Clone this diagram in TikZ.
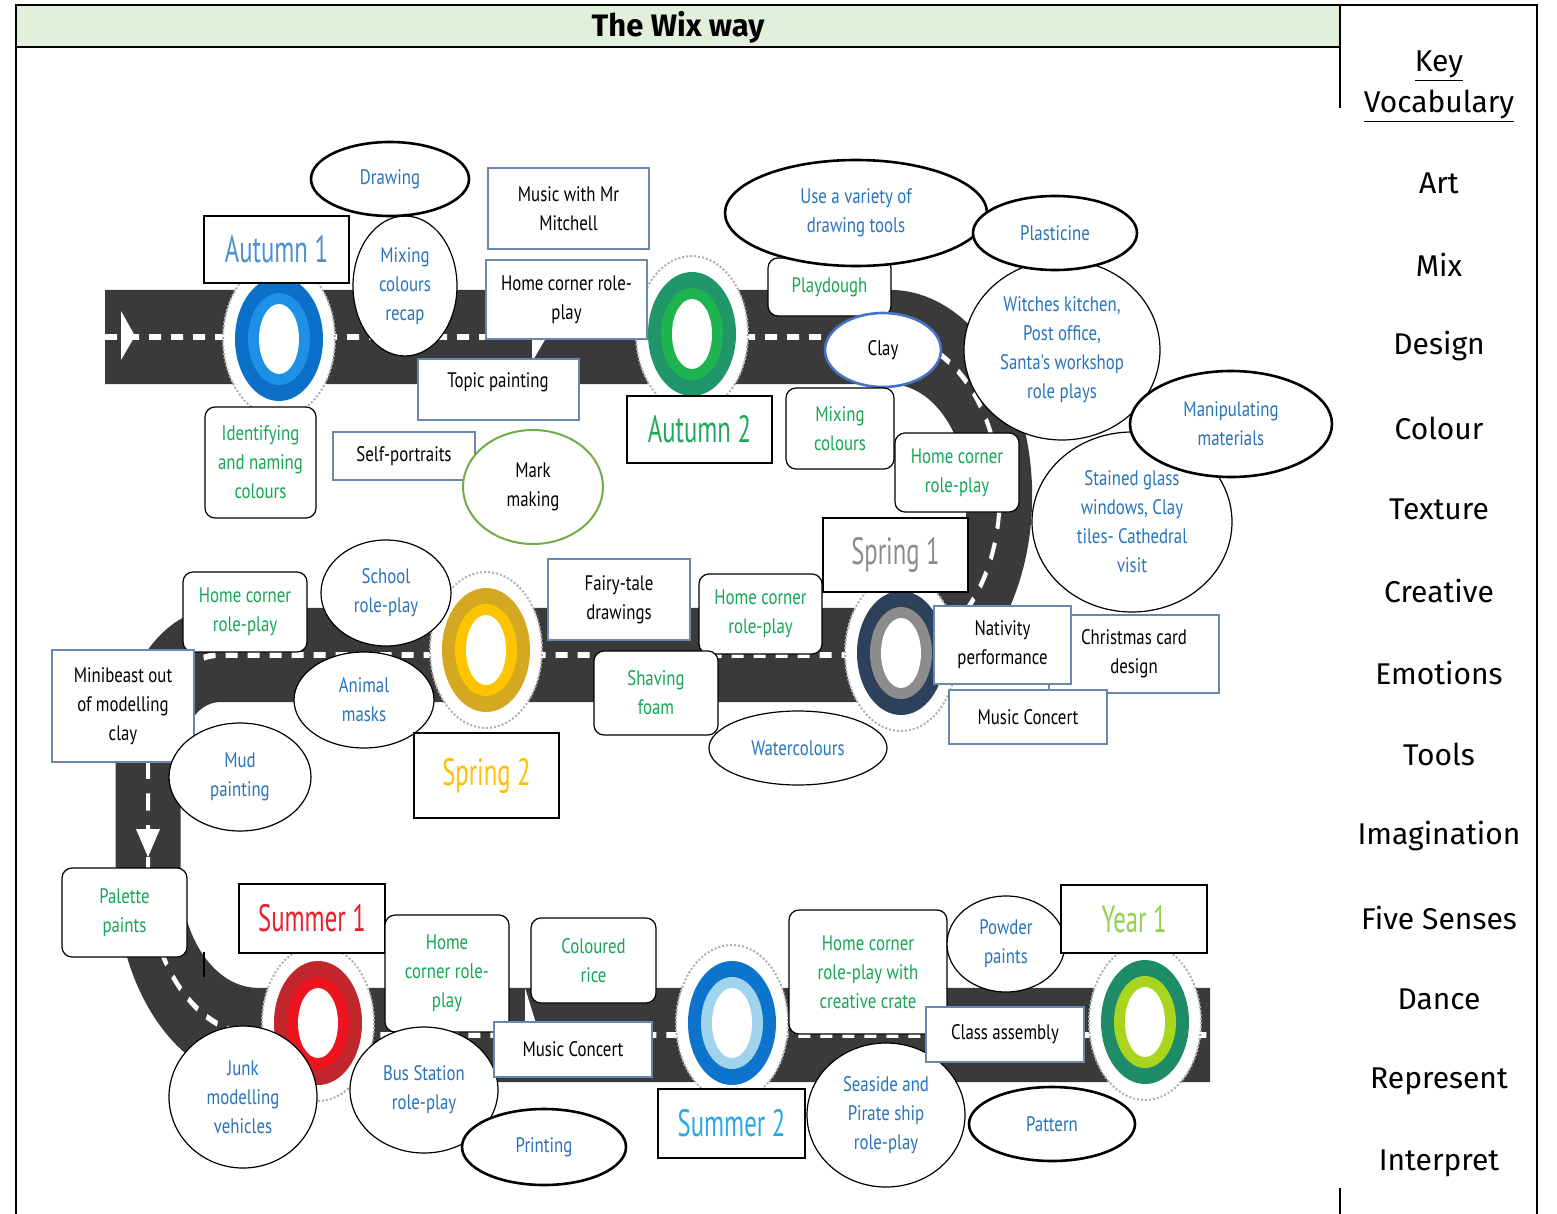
\documentclass[tikz,border=0pt]{standalone}
\usepackage{fontspec}
\usetikzlibrary{shapes.geometric}
\setmainfont{PT Sans}
\newfontfamily\wxcond[FakeStretch=0.8]{PT Sans}
\newfontfamily\wxvcond[FakeStretch=0.65]{PT Sans}
\newfontfamily\wxkey{Fira Sans}
\newcommand\wxbody{\wxcond\fontsize{10.5}{14.5}\selectfont}
\newcommand\wxseason{\wxvcond\fontsize{19}{22}\selectfont}
\newcommand\pxu{0.5pt}
\definecolor{roadc}{RGB}{58,58,58}
\definecolor{tblue}{RGB}{40,116,186}
\definecolor{tgreen}{RGB}{22,166,86}
\definecolor{bgrey}{RGB}{105,135,175}
\definecolor{titlebg}{RGB}{226,239,218}
\definecolor{halo}{RGB}{175,175,175}
\definecolor{markg}{RGB}{112,173,71}
\definecolor{clayb}{RGB}{68,114,196}
\definecolor{a1o}{RGB}{10,112,200}\definecolor{a1i}{RGB}{30,144,230}
\definecolor{a2o}{RGB}{32,150,105}\definecolor{a2i}{RGB}{30,180,80}
\definecolor{s1o}{RGB}{45,65,92}\definecolor{s1i}{RGB}{140,140,140}
\definecolor{s2o}{RGB}{212,168,32}\definecolor{s2i}{RGB}{255,196,0}
\definecolor{u1o}{RGB}{192,38,44}\definecolor{u1i}{RGB}{236,20,30}
\definecolor{u2o}{RGB}{12,116,204}\definecolor{u2i}{RGB}{160,212,236}
\definecolor{y1o}{RGB}{30,140,104}\definecolor{y1i}{RGB}{168,214,30}
\definecolor{a1t}{RGB}{79,143,208}
\definecolor{a2t}{RGB}{30,168,92}
\definecolor{s1t}{RGB}{140,140,140}
\definecolor{s2t}{RGB}{255,192,0}
\definecolor{u1t}{RGB}{232,32,42}
\definecolor{u2t}{RGB}{40,170,225}
\definecolor{y1t}{RGB}{146,208,80}
\newcommand\boxnode[7]{\node[#6, minimum width={(#4-#2)*\pxu}, minimum height={(#5-#3)*\pxu}] (#1) at ({(#2+#4)/2},{(#3+#5)/2}) {#7};}
\newcommand\ellnode[7]{\node[ellipse, #6, minimum width={2*#4*\pxu}, minimum height={2*#5*\pxu}] (#1) at (#2,#3) {#7};}
\newcommand\ringdraw[4]{%
  \draw[halo, densely dotted, line width=1pt, fill=white] (#1,#2) ellipse [x radius=56, y radius=78];
  \fill[#3] (#1,#2) ellipse [x radius=44, y radius=62];
  \fill[#4] (#1,#2) ellipse [x radius=31, y radius=46];
  \fill[white] (#1,#2) ellipse [x radius=20, y radius=35];
}
\begin{document}
\begin{tikzpicture}[x=0.5pt,y=-0.5pt,
  sq/.style={rectangle, draw=bgrey, line width=0.7pt, fill=white, inner sep=0pt, align=center, font=\wxbody, text=black},
  rnd/.style={rectangle, rounded corners=5pt, draw=black, line width=0.6pt, fill=white, inner sep=0pt, align=center, font=\wxbody, text=tgreen},
  season/.style={rectangle, draw=black, line width=1.1pt, fill=white, inner sep=0pt, font=\wxseason},
  ovl/.style={draw=black, line width=0.6pt, fill=white, inner sep=0pt, align=center, font=\wxbody, text=tblue},
  ovlb/.style={ovl, line width=1.3pt},
  keyw/.style={font=\wxkey\fontsize{15}{18}\selectfont, text=black, inner sep=0pt},
]
\useasboundingbox (0,0) rectangle (1557,1214);
% frame
\fill[titlebg] (16,5) rectangle (1340,47);
\draw[line width=1.2pt] (16,1214) -- (16,5) -- (1537,5) -- (1537,1214);
\draw[line width=1.2pt] (16,47) -- (1340,47);
\draw[line width=1.2pt] (1340,5) -- (1340,108);
\draw[line width=1.2pt] (1340,1188) -- (1340,1214);
\node[font=\wxkey\bfseries\fontsize{15.5}{18}\selectfont] (title) at (678,27) {The Wix way};
% key vocabulary
\node[keyw, align=center, font=\wxkey\fontsize{15}{20.5}\selectfont] (keyhead) at (1439,87) {\underline{Key}\\\underline{Vocabulary}};
\foreach \w [count=\i] in {Art,Mix,Design,Colour,Texture,Creative,Emotions,Tools,Imagination,Five Senses,Dance,Represent,Interpret}
  \node[keyw] (kw\i) at (1439,{183+(\i-1)*81.67}) {\w};
% road
\begin{scope}[transform canvas={yscale=1.45}]
  \draw[roadc, line width=32.5pt] (105,232.41) -- (890,232.41) arc[start angle=-90, end angle=90, radius=109.66] -- (220,451.72) arc[start angle=-90, end angle=-180, radius=72] -- (148,603.8) arc[start angle=180, end angle=90, radius=110] -- (1210,713.79);
  \draw[white, line width=2pt, dash pattern=on 6pt off 5pt] (105,232.41) -- (890,232.41) arc[start angle=-90, end angle=90, radius=109.66] -- (220,451.72) arc[start angle=-90, end angle=-180, radius=72] -- (148,603.8) arc[start angle=180, end angle=90, radius=110] -- (1210,713.79);
\end{scope}
\fill[white] (121,311) -- (135,336) -- (121,360) -- cycle;
\fill[white] (136,829) -- (160,829) -- (148,857) -- cycle;
\fill[white] (532,314) -- (546,338) -- (532,362) -- cycle;
\fill[white] (525,988) -- (539,1033) -- (525,1078) -- cycle;
\draw[black, line width=0.8pt] (204,952) -- (204,977);
% rings
\ringdraw{279}{339}{a1o}{a1i}
\ringdraw{692}{334}{a2o}{a2i}
\ringdraw{901}{653}{s1o}{s1i}
\ringdraw{486}{650}{s2o}{s2i}
\ringdraw{318}{1023}{u1o}{u1i}
\ringdraw{732}{1023}{u2o}{u2i}
\ringdraw{1145}{1022}{y1o}{y1i}
% autumn 1
\boxnode{autA}{204}{216}{349}{283}{season,text=a1t}{Autumn 1}
\ellnode{mixrecap}{405}{286}{52}{70}{ovl}{Mixing\\colours\\recap}
\ellnode{drawing}{390}{179}{79}{37}{ovlb}{Drawing}
\boxnode{mitchell}{488}{168}{649}{249}{sq}{Music with Mr\\Mitchell}
\boxnode{homeA}{486}{260}{647}{339}{sq}{Home corner role-\\play}
\boxnode{topic}{418}{359}{579}{420}{sq}{}
\node[font=\wxbody] (topicT) at (498,382) {Topic painting};
\boxnode{ident}{205}{407}{316}{518}{rnd}{Identifying\\and naming\\colours}
\boxnode{selfp}{333}{432}{475}{480}{sq}{Self-portraits}
\ellnode{mark}{533}{487}{70}{57}{ovl, draw=markg, line width=1pt, text=black}{Mark\\making}
% autumn 2
\boxnode{playd}{768}{258}{891}{316}{rnd}{Playdough}
\ellnode{variety}{856}{213}{131}{53}{ovlb}{Use a variety of\\drawing tools}
\ellnode{clay}{883}{350}{58}{37}{ovl, draw=clayb, line width=1.3pt, text=black}{Clay}
\boxnode{autB}{627}{396}{772}{463}{season,text=a2t}{Autumn 2}
\boxnode{mixg}{786}{388}{894}{469}{rnd}{Mixing\\colours}
\ellnode{stained}{1132}{522}{100}{90}{ovl}{Stained glass\\windows, Clay\\tiles- Cathedral\\visit}
\ellnode{witches}{1062}{350}{98}{90}{ovl}{Witches kitchen,\\Post office,\\Santa's workshop\\role plays}
\ellnode{plast}{1055}{233}{82}{37}{ovlb}{Plasticine}
\ellnode{manip}{1231}{424}{101}{53}{ovlb}{Manipulating\\materials}
\boxnode{homeB}{895}{433}{1019}{512}{rnd}{Home corner\\role-play}
% spring 1
\boxnode{springA}{823}{518}{968}{592}{season,text=s1t}{Spring 1}
\boxnode{xmas}{1049}{615}{1219}{693}{sq}{Christmas card\\design}
\boxnode{nativ}{934}{606}{1071}{684}{sq}{Nativity\\performance}
\boxnode{concertA}{949}{690}{1107}{744}{sq}{Music Concert}
\ellnode{water}{798}{748}{89}{37}{ovl}{Watercolours}
\boxnode{homeC}{699}{574}{822}{654}{rnd}{Home corner\\role-play}
\boxnode{shave}{594}{651}{718}{735}{rnd}{Shaving\\foam}
\boxnode{fairy}{548}{559}{690}{640}{sq}{Fairy-tale\\drawings}
% spring 2
\ellnode{school}{386}{593}{65}{53}{ovl}{School\\role-play}
\boxnode{homeD}{183}{572}{307}{652}{rnd}{Home corner\\role-play}
\ellnode{animal}{364}{700}{70}{48}{ovl}{Animal\\masks}
\boxnode{minib}{52}{650}{194}{762}{sq}{Minibeast out\\of modelling\\clay}
\ellnode{mud}{240}{777}{71}{54}{ovl}{Mud\\painting}
\boxnode{springB}{414}{733}{559}{818}{season,text=s2t}{Spring 2}
% summer 1
\boxnode{palette}{62}{868}{187}{957}{rnd}{Palette\\paints}
\boxnode{sumA}{239}{884}{385}{953}{season,text=u1t}{Summer 1}
\boxnode{homeE}{385}{915}{509}{1032}{rnd}{Home\\corner role-\\play}
\boxnode{rice}{531}{918}{656}{1003}{rnd}{Coloured\\rice}
\ellnode{junk}{243}{1097}{74}{71}{ovl}{Junk\\modelling\\vehicles}
\ellnode{bus}{424}{1090}{74}{63}{ovl}{Bus Station\\role-play}
\boxnode{concertB}{494}{1022}{652}{1077}{sq}{Music Concert}
\ellnode{print}{544}{1147}{82}{38}{ovlb}{Printing}
% summer 2
\boxnode{sumB}{658}{1089}{805}{1158}{season,text=u2t}{Summer 2}
\boxnode{crate}{789}{910}{947}{1034}{rnd}{Home corner\\role-play with\\creative crate}
\ellnode{powder}{1006}{944}{59}{48}{ovl}{Powder\\paints}
\boxnode{yearA}{1061}{885}{1207}{953}{season,text=y1t}{Year 1}
\ellnode{seaside}{886}{1115}{79}{72}{ovl}{Seaside and\\Pirate ship\\role-play}
\boxnode{classas}{926}{1007}{1084}{1062}{sq}{Class assembly}
\ellnode{pattern}{1052}{1124}{83}{37}{ovlb}{Pattern}
\end{tikzpicture}
\end{document}
